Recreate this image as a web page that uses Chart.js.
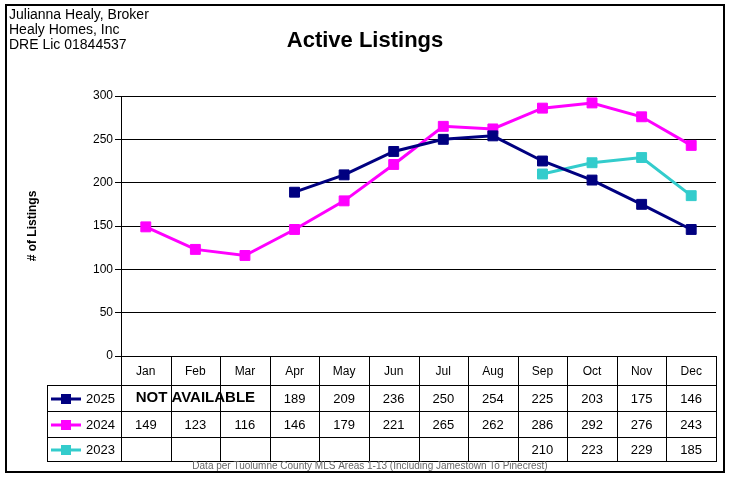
<!DOCTYPE html>
<html>
<head>
<meta charset="utf-8">
<script src="https://cdn.jsdelivr.net/npm/chart.js@4/dist/chart.umd.min.js"></script>
<style>
  body { margin: 0; background: #fff; }
  canvas { display: block; }
</style>
</head>
<body>
<canvas id="listingsChart" width="731" height="478"></canvas>
<script>
var months = ["Jan", "Feb", "Mar", "Apr", "May", "Jun", "Jul", "Aug", "Sep", "Oct", "Nov", "Dec"];
var listings2025 = [null, null, null, 189, 209, 236, 250, 254, 225, 203, 175, 146];
var listings2024 = [149, 123, 116, 146, 179, 221, 265, 262, 286, 292, 276, 243];
var listings2023 = [null, null, null, null, null, null, null, null, 210, 223, 229, 185];
var yTicks = [0, 50, 100, 150, 200, 250, 300];

var tableRows = [
  { label: "2025", color: "#000080", values: listings2025 },
  { label: "2024", color: "#FF00FF", values: listings2024 },
  { label: "2023", color: "#33CCCC", values: listings2023 },
];

// frame, header texts and the data table under the plot
var decorPlugin = {
  id: "decor",
  beforeDraw: function (chart) {
    var ctx = chart.ctx;
    ctx.save();
    ctx.fillStyle = "#fff";
    ctx.fillRect(0, 0, chart.width, chart.height);
    ctx.restore();
  },
  afterDraw: function (chart) {
    var ctx = chart.ctx;
    var x = chart.scales.x;
    var area = chart.chartArea;
    var colW = x.getPixelForValue(1) - x.getPixelForValue(0);
    var left = area.left, right = area.right;
    var headTop = area.bottom, headBottom = 385;
    var rowH = [385, 411, 437, 461];
    var legLeft = 47;

    ctx.save();
    // outer frame
    ctx.strokeStyle = "#000";
    ctx.lineWidth = 2;
    ctx.strokeRect(6, 5, 718, 467);

    // company text
    ctx.fillStyle = "#000";
    ctx.font = "14px 'Liberation Sans', Arial, sans-serif";
    ctx.textAlign = "left";
    ctx.textBaseline = "middle";
    ctx.fillText("Julianna Healy, Broker", 9, 15);
    ctx.fillText("Healy Homes, Inc", 9, 30);
    ctx.fillText("DRE Lic 01844537", 9, 45);

    // title
    ctx.font = "bold 22px 'Liberation Sans', Arial, sans-serif";
    ctx.textAlign = "center";
    ctx.fillText("Active Listings", 365, 41);

    // y axis title
    ctx.save();
    ctx.translate(33, 226);
    ctx.rotate(-Math.PI / 2);
    ctx.font = "bold 12px 'Liberation Sans', Arial, sans-serif";
    ctx.fillText("# of Listings", 0, 0);
    ctx.restore();

    // table grid
    ctx.lineWidth = 1;
    ctx.strokeStyle = "#000";
    ctx.beginPath();
    ctx.moveTo(left + 0.5, headTop);
    ctx.lineTo(left + 0.5, rowH[3]);
    for (var i = 0; i < months.length; i++) {
      var bx = Math.round(x.getPixelForValue(i) + colW / 2) + 0.5;
      ctx.moveTo(bx, headTop);
      ctx.lineTo(bx, rowH[3]);
    }
    ctx.moveTo(legLeft + 0.5, rowH[0]);
    ctx.lineTo(legLeft + 0.5, rowH[3]);
    for (var r = 0; r < rowH.length; r++) {
      ctx.moveTo(legLeft, rowH[r] + 0.5);
      ctx.lineTo(right + 1, rowH[r] + 0.5);
    }
    ctx.stroke();

    // month labels
    ctx.font = "12px 'Liberation Sans', Arial, sans-serif";
    ctx.textAlign = "center";
    ctx.fillStyle = "#000";
    months.forEach(function (m, i) {
      ctx.fillText(m, x.getPixelForValue(i), (headTop + headBottom) / 2 + 1);
    });

    // rows
    tableRows.forEach(function (row, r) {
      var cy = (rowH[r] + rowH[r + 1]) / 2 + 1;
      ctx.strokeStyle = row.color;
      ctx.lineWidth = 3;
      ctx.beginPath();
      ctx.moveTo(51, cy);
      ctx.lineTo(81, cy);
      ctx.stroke();
      ctx.fillStyle = row.color;
      ctx.fillRect(61, cy - 5, 10, 10);
      ctx.fillStyle = "#000";
      ctx.font = "13px 'Liberation Sans', Arial, sans-serif";
      ctx.textAlign = "left";
      ctx.fillText(row.label, 86, cy);
      ctx.textAlign = "center";
      row.values.forEach(function (v, i) {
        if (v !== null) ctx.fillText(String(v), x.getPixelForValue(i), cy);
      });
    });

    ctx.font = "bold 15px 'Liberation Sans', Arial, sans-serif";
    ctx.textAlign = "center";
    ctx.fillText("NOT AVAILABLE", x.getPixelForValue(1), (rowH[0] + rowH[1]) / 2);

    // footer
    ctx.font = "10px 'Liberation Sans', Arial, sans-serif";
    ctx.fillStyle = "#666";
    ctx.fillText("Data per Tuolumne County MLS Areas 1-13 (Including Jamestown To Pinecrest)", 370, 466);
    ctx.restore();
  },
};

function lineSet(label, data, color) {
  return {
    label: label,
    data: data,
    borderColor: color,
    backgroundColor: color,
    borderWidth: 3,
    pointStyle: "rect",
    pointRadius: 7,
    pointHoverRadius: 7,
    pointBorderWidth: 1,
    pointBorderColor: color,
    pointBackgroundColor: color,
    tension: 0,
    spanGaps: false,
  };
}

var ctx = document.getElementById("listingsChart").getContext("2d");
new Chart(ctx, {
  type: "line",
  data: {
    labels: months,
    datasets: [
      lineSet("2025", listings2025, "#000080"),
      lineSet("2024", listings2024, "#FF00FF"),
      lineSet("2023", listings2023, "#33CCCC"),
    ],
  },
  options: {
    responsive: false,
    animation: false,
    layout: { padding: { left: 0, top: 96, right: 15, bottom: 122 } },
    plugins: { legend: { display: false }, title: { display: false }, tooltip: { enabled: false } },
    scales: {
      x: { type: "category", offset: true, display: false },
      y: {
        min: 0,
        max: 300,
        afterFit: function (scale) { scale.width = 121; },
        afterBuildTicks: function (scale) {
          scale.ticks = yTicks.map(function (v) { return { value: v }; });
        },
        ticks: {
          color: "#000",
          padding: 2,
          font: { family: "'Liberation Sans', Arial, sans-serif", size: 12 },
        },
        grid: { color: "#000", lineWidth: 1, tickLength: 6, tickColor: "#000" },
        border: { display: true, color: "#000", width: 1 },
      },
    },
  },
  plugins: [decorPlugin],
});
</script>
</body>
</html>
